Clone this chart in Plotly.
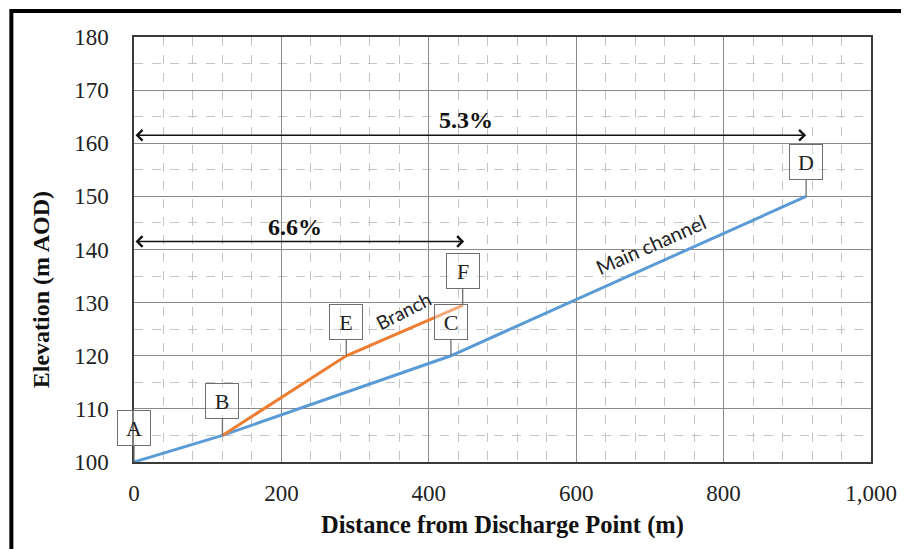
import plotly.graph_objects as go

# ---- data ----
main_x = [0, 120, 430, 912]
main_y = [100, 105, 120, 150]
branch_x = [120, 288, 446]
branch_y = [105, 120, 129.5]

point_labels = ["A", "B", "C", "D", "E", "F"]
point_x = [0, 120, 430, 912, 288, 446]
point_y = [100, 105, 120, 150, 120, 129.5]

gradient_labels = ["5.3%", "6.6%"]
gradient_start = [0, 0]
gradient_end = [912, 448]
gradient_y = [161.5, 141.5]

x_ticks = [0, 200, 400, 600, 800, 1000]
x_ticktext = ["0", "200", "400", "600", "800", "1,000"]
y_ticks = [100, 110, 120, 130, 140, 150, 160, 170, 180]

BLUE = "#5B9BD5"
ORANGE = "#ED7D31"
SERIF = "Liberation Serif, Times New Roman, serif"
SANS = "Lato, Open Sans, sans-serif"

fig = go.Figure()
fig.add_trace(go.Scatter(x=main_x, y=main_y, mode="lines",
                         line=dict(color=BLUE, width=3), name="Main channel",
                         showlegend=False))
fig.add_trace(go.Scatter(x=branch_x, y=branch_y, mode="lines",
                         line=dict(color=ORANGE, width=3), name="Branch",
                         showlegend=False))

annotations = []
# callouts
for lab, px, py in zip(point_labels, point_x, point_y):
    annotations.append(dict(
        x=px, y=py, xref="x", yref="y", text=lab, showarrow=True,
        ax=0, ay=-34, arrowhead=0, arrowwidth=1.3, arrowcolor="#6f6f6f",
        bgcolor="rgba(255,255,255,0.35)", bordercolor="#6f6f6f",
        borderwidth=1, borderpad=2, width=28, height=30,
        font=dict(family=SERIF, size=22, color="#222222")))

# gradient arrows
for lab, xs, xe, gy in zip(gradient_labels, gradient_start, gradient_end, gradient_y):
    annotations.append(dict(
        x=xe, y=gy, ax=xs, ay=gy, xref="x", yref="y", axref="x", ayref="y",
        text="", showarrow=True, arrowside="end+start", arrowhead=4,
        arrowsize=1.3, arrowwidth=1.6, arrowcolor="#111111",
        startarrowhead=4, startarrowsize=1.3))

annotations.append(dict(x=450, y=164.4, xref="x", yref="y", text="<b>5.3%</b>",
                        showarrow=False, font=dict(family=SERIF, size=24, color="#111111")))
annotations.append(dict(x=219, y=144.2, xref="x", yref="y", text="<b>6.6%</b>",
                        showarrow=False, font=dict(family=SERIF, size=24, color="#111111")))

# line labels
annotations.append(dict(x=366, y=128.6, xref="x", yref="y", text="Branch",
                        showarrow=False, textangle=-27,
                        font=dict(family=SANS, size=19, color="#222222")))
annotations.append(dict(x=702, y=141.0, xref="x", yref="y", text="Main channel",
                        showarrow=False, textangle=-24,
                        font=dict(family=SANS, size=20, color="#222222")))

# axis titles
annotations.append(dict(x=-0.127, y=0.405, xref="paper", yref="paper",
                        text="<b>Elevation (m AOD)</b>", textangle=-90,
                        showarrow=False, xanchor="center", yanchor="middle",
                        font=dict(family=SERIF, size=24, color="#111111")))
annotations.append(dict(x=0.5, y=-0.148, xref="paper", yref="paper",
                        text="<b>Distance from Discharge Point (m)</b>",
                        showarrow=False, xanchor="center", yanchor="middle",
                        font=dict(family=SERIF, size=24.5, color="#111111")))

fig.update_layout(
    width=901, height=541, autosize=False,
    margin=dict(l=126, r=33, t=29, b=87),
    paper_bgcolor="white", plot_bgcolor="white",
    annotations=annotations,
    shapes=[dict(type="rect", xref="paper", yref="paper",
                 x0=-0.1664, x1=1.2, y0=-0.4, y1=1.0612,
                 line=dict(color="black", width=4), layer="above")],
)
fig.update_xaxes(
    range=[0, 1000], tickvals=x_ticks, ticktext=x_ticktext,
    showgrid=True, gridcolor="#8a8a8a", gridwidth=1,
    showline=True, linecolor="#3a3a3a", linewidth=1.5, mirror=True,
    zeroline=False, ticks="", ticklabelstandoff=10,
    tickfont=dict(family=SERIF, size=23, color="#222222"),
    minor=dict(dtick=40, showgrid=True, gridcolor="#c4c4c4", griddash="dash", gridwidth=1),
)
fig.update_yaxes(
    range=[100, 180], tickvals=y_ticks,
    showgrid=True, gridcolor="#8a8a8a", gridwidth=1,
    showline=True, linecolor="#3a3a3a", linewidth=1.5, mirror=True,
    zeroline=False, ticks="", ticklabelstandoff=19,
    tickfont=dict(family=SERIF, size=23, color="#222222"),
    minor=dict(dtick=5, showgrid=True, gridcolor="#c4c4c4", griddash="dash", gridwidth=1),
)

fig.write_html("out.html")
